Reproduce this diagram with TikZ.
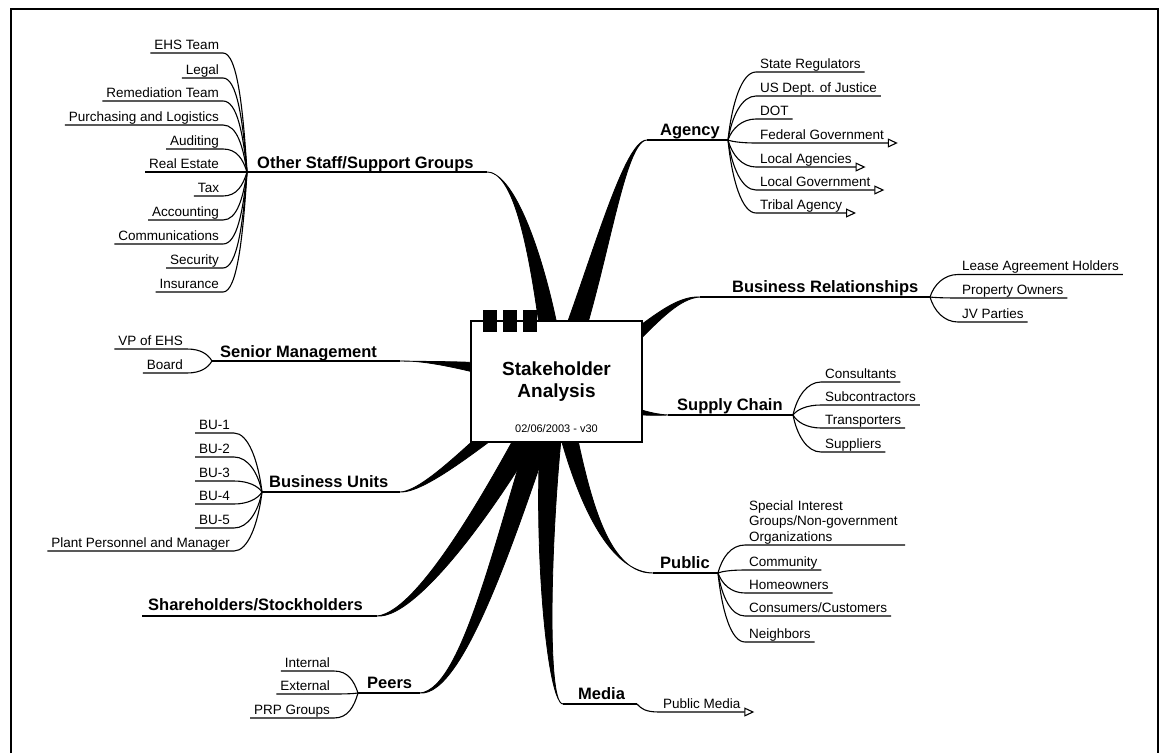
\documentclass[tikz,border=0pt]{standalone}
\usepackage{fontspec}
\setmainfont{Liberation Sans}
\usetikzlibrary{calc,arrows.meta}
\tikzset{
 kidtext/.style={font=\fontsize{13.5}{16}\selectfont, inner xsep=4pt, inner ysep=0.8pt, text depth=3pt, outer sep=0pt},
 kidblock/.style={font=\fontsize{13.5}{15.5}\selectfont, inner xsep=4pt, inner ysep=1pt, outer sep=0pt, align=left, text width=152pt},
 maintext/.style={font=\bfseries\fontsize{16.5}{19}\selectfont, inner sep=0pt, anchor=base west},
 kidline/.style={line width=1.1pt},
 mainline/.style={line width=1.6pt},
 branchfill/.style={fill=black, draw=black, line width=0.8pt},
 moretip/.style={-{Triangle[open,length=10pt,width=9pt]}},
 corebox/.style={draw, line width=1.1pt, fill=white, minimum width=171pt, minimum height=121pt, inner sep=0pt},
 tabbox/.style={fill=black, minimum width=14pt, minimum height=22pt, inner sep=0pt},
}
\newcommand{\kidL}[2]{\draw[kidline] (#1) .. controls ($(#1)!0.55!(#1 |- #2.south east)+(-4,0)$) and ($(#2.south east)+(14,0)$) .. (#2.south east) -- (#2.south west);}
\newcommand{\kidR}[2]{\draw[kidline] (#1) .. controls ($(#1)!0.55!(#1 |- #2.south west)+(4,0)$) and ($(#2.south west)+(-14,0)$) .. (#2.south west) -- (#2.south east);}
\newcommand{\kidRa}[2]{\draw[kidline,moretip] (#1) .. controls ($(#1)!0.55!(#1 |- #2.south west)+(4,0)$) and ($(#2.south west)+(-14,0)$) .. (#2.south west) -- ($(#2.south east)+(10,0)$);}
\newcommand{\branchw}[5]{\fill[branchfill] ($(c0)+(#4)$) .. controls ($(#2)+(#4)$) and ($(#3)+(#5)$) .. (#1) .. controls ($(#3)-(#5)$) and ($(#2)-(#4)$) .. ($(c0)-(#4)$) -- cycle;}
\begin{document}
\begin{tikzpicture}[x=1pt,y=-1pt]
\useasboundingbox (0,0) rectangle (1160,753);
\fill[white] (0,0) rectangle (1160,753);
% frame
\draw[line width=1.3pt] (11,753) -- (11,9) -- (1158,9) -- (1158,753);

% coordinates
\coordinate (c0) at (556.5,381.5);
\coordinate (osH) at (247,172); \coordinate (osE) at (487,172);
\coordinate (agH) at (728,140); \coordinate (agE) at (647,140);
\coordinate (brH) at (930,297); \coordinate (brE) at (700,297);
\coordinate (scH) at (793,415); \coordinate (scE) at (668,415);
\coordinate (puH) at (718,573); \coordinate (puE) at (653,573);
\coordinate (meH) at (637,704); \coordinate (meE) at (563,704);
\coordinate (peH) at (358,693); \coordinate (peE) at (420,693);
\coordinate (shS) at (142,616); \coordinate (shE) at (377,616);
\coordinate (buH) at (262,492); \coordinate (buE) at (400,492);
\coordinate (smH) at (212,361); \coordinate (smE) at (400,361);

% tapered branches
\branchw{osE}{545,290}{520,172}{10,0}{0,0.8}
\branchw{agE}{595,290}{622,140}{10,4.3}{0,1}
\branchw{brE}{620,370}{660,297}{2,11}{0,2.5}
\branchw{scE}{600,405}{640,415}{-4.6,8.4}{0,1.5}
\branchw{puE}{575,470}{600,573}{9,-1.9}{0,1.5}
\branchw{meE}{540,500}{545,704}{11,1.5}{0,1.5}
\branchw{peE}{510,520}{465,693}{10.4,3.5}{0,4}
\branchw{shE}{505,480}{420,616}{9.5,4.9}{0,4}
\branchw{buE}{500,420}{430,492}{4.9,7}{0,1.5}
\branchw{smE}{500,370}{440,361}{2,-9.8}{0,1}

% main underlines
\draw[mainline] (osH) -- (osE);
\draw[mainline] (agE) -- (agH);
\draw[mainline] (brE) -- (brH);
\draw[mainline] (scE) -- (scH);
\draw[mainline] (puE) -- (puH);
\draw[mainline] (meE) -- (meH);
\draw[mainline] (peH) -- (peE);
\draw[mainline] (shS) -- (shE);
\draw[mainline] (buH) -- (buE);
\draw[mainline] (smH) -- (smE);

% main labels
\node[maintext] (osT) at (257,168) {Other Staff/Support Groups};
\node[maintext] (agT) at (660,135) {Agency};
\node[maintext] (brT) at (732,292) {Business Relationships};
\node[maintext] (scT) at (677,410) {Supply Chain};
\node[maintext] (puT) at (660,568) {Public};
\node[maintext] (meT) at (578,699) {Media};
\node[maintext] (peT) at (367,688) {Peers};
\node[maintext] (shT) at (148,610) {Shareholders/Stockholders};
\node[maintext] (buT) at (269,487) {Business Units};
\node[maintext] (smT) at (220,357) {Senior Management};

% Other Staff children
\node[kidtext,anchor=south east] (os1) at (223,53) {EHS Team};
\node[kidtext,anchor=south east] (os2) at (223,78) {Legal};
\node[kidtext,anchor=south east] (os3) at (223,101) {Remediation Team};
\node[kidtext,anchor=south east] (os4) at (223,125) {Purchasing and Logistics};
\node[kidtext,anchor=south east] (os5) at (223,149) {Auditing};
\node[kidtext,anchor=south east] (os6) at (223,172) {Real Estate};
\node[kidtext,anchor=south east] (os7) at (223,196) {Tax};
\node[kidtext,anchor=south east] (os8) at (223,220) {Accounting};
\node[kidtext,anchor=south east] (os9) at (223,244) {Communications};
\node[kidtext,anchor=south east] (os10) at (223,268) {Security};
\node[kidtext,anchor=south east] (os11) at (223,292) {Insurance};
\foreach \k in {1,...,11} {\kidL{osH}{os\k}}

% Senior Management children
\node[kidtext,anchor=south east] (sm1) at (187,349) {VP of EHS};
\node[kidtext,anchor=south east] (sm2) at (187,373) {Board};
\kidL{smH}{sm1}
\kidL{smH}{sm2}

% Business Units children
\node[kidtext,anchor=south east] (bu1) at (234,433) {BU-1};
\node[kidtext,anchor=south east] (bu2) at (234,457) {BU-2};
\node[kidtext,anchor=south east] (bu3) at (234,481) {BU-3};
\node[kidtext,anchor=south east] (bu4) at (234,504) {BU-4};
\node[kidtext,anchor=south east] (bu5) at (234,528) {BU-5};
\node[kidtext,anchor=south east] (bu6) at (234,551) {Plant Personnel and Manager};
\foreach \k in {1,...,6} {\kidL{buH}{bu\k}}

% Peers children
\node[kidtext,anchor=south east] (pe1) at (334,671) {Internal};
\node[kidtext,anchor=south east] (pe2) at (334,694) {External};
\node[kidtext,anchor=south east] (pe3) at (334,718) {PRP Groups};
\foreach \k in {1,2,3} {\kidL{peH}{pe\k}}

% Agency children
\node[kidtext,anchor=south west] (ag1) at (756,72) {State Regulators};
\node[kidtext,anchor=south west] (ag2) at (756,96) {US Dept. of Justice};
\node[kidtext,anchor=south west] (ag3) at (756,119) {DOT};
\node[kidtext,anchor=south west] (ag4) at (756,143) {Federal Government};
\node[kidtext,anchor=south west] (ag5) at (756,167) {Local Agencies};
\node[kidtext,anchor=south west] (ag6) at (756,190) {Local Government};
\node[kidtext,anchor=south west] (ag7) at (756,213) {Tribal Agency};
\foreach \k in {1,2,3} {\kidR{agH}{ag\k}}
\foreach \k in {4,...,7} {\kidRa{agH}{ag\k}}

% Business Relationships children
\node[kidtext,anchor=south west] (br1) at (958,274.5) {Lease Agreement Holders};
\node[kidtext,anchor=south west] (br2) at (958,298) {Property Owners};
\node[kidtext,anchor=south west] (br3) at (958,322) {JV Parties};
\foreach \k in {1,2,3} {\kidR{brH}{br\k}}

% Supply Chain children
\node[kidtext,anchor=south west] (sc1) at (821,382) {Consultants};
\node[kidtext,anchor=south west] (sc2) at (821,405) {Subcontractors};
\node[kidtext,anchor=south west] (sc3) at (821,428) {Transporters};
\node[kidtext,anchor=south west] (sc4) at (821,452) {Suppliers};
\foreach \k in {1,...,4} {\kidR{scH}{sc\k}}

% Public children
\node[kidblock,anchor=south west] (pu1) at (745,545) {Special Interest\\Groups/Non-government\\Organizations};
\node[kidtext,anchor=south west] (pu2) at (745,570) {Community};
\node[kidtext,anchor=south west] (pu3) at (745,593) {Homeowners};
\node[kidtext,anchor=south west] (pu4) at (745,616) {Consumers/Customers};
\node[kidtext,anchor=south west] (pu5) at (745,642) {Neighbors};
\foreach \k in {1,...,5} {\kidR{puH}{pu\k}}

% Media child
\node[kidtext,anchor=south west] (me1) at (659,712) {Public Media};
\kidRa{meH}{me1}

% central topic
\node[corebox] (core) at (c0) {};
\node[tabbox] (tab1) at (489.7,321) {};
\node[tabbox] (tab2) at (509.7,321) {};
\node[tabbox] (tab3) at (530,321) {};
\node[font=\bfseries\fontsize{19}{22}\selectfont, anchor=base, inner sep=0pt] (title1) at (556.5,375) {Stakeholder};
\node[font=\bfseries\fontsize{19}{22}\selectfont, anchor=base, inner sep=0pt] (title2) at (556.5,397) {Analysis};
\node[font=\fontsize{11}{13}\selectfont, anchor=base, inner sep=0pt] (date) at (556.5,432) {02/06/2003 - v30};
\end{tikzpicture}
\end{document}
